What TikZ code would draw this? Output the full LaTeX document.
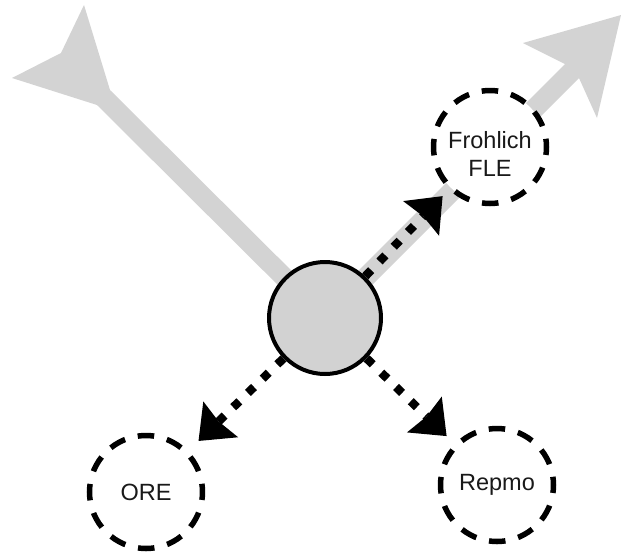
\documentclass[tikz,border=0pt]{standalone}
\usepackage{fontspec}
\setmainfont{Liberation Sans}
\usetikzlibrary{arrows.meta}
\definecolor{shaftgray}{HTML}{D3D3D3}
\definecolor{hubgray}{HTML}{D2D2D2}
\begin{document}
\begin{tikzpicture}[x=1pt,y=-1pt,
  hub/.style={circle, draw=black, line width=4pt, fill=hubgray, minimum size=112pt, inner sep=0pt},
  site/.style={circle, draw=black, fill=white, line width=5.5pt, dash pattern=on 16.5pt off 13.1pt, dash phase=8.25pt, minimum size=113pt, inner sep=0pt},
  sitetext/.style={font=\fontsize{23.5}{27.5}\selectfont, align=center, text=black!90, inner sep=0pt},
  link/.style={draw=black, line width=8.5pt, dash pattern=on 8.5pt off 12pt, -{Stealth[length=31pt,width=50pt,inset=3pt,line width=0pt]}},
  bigarrow/.style={fill=shaftgray, draw=none}]
\useasboundingbox (0,0) rectangle (621,555);
% grey flow arrows
\fill[bigarrow] (318,311) -- (565,64) -- (523,43) -- (621,15) -- (597,118) -- (579,78) -- (332,325) -- cycle;
\fill[bigarrow] (332,311) -- (110,90) -- (84,5) -- (61,53) -- (12,78) -- (97,105) -- (318,325) -- cycle;
% nodes
\node[site] (fle) at (490,147) {};
\node[sitetext] (flet) at (490,154) {Frohlich\\FLE};
\node[site, sitetext] (ore) at (146,492) {ORE};
\node[site, sitetext] (rep) at (497,485) {Repmo};
\node[hub] (c) at (325,318) {};
% dotted connectors
\draw[link, shorten >=9pt] (c) -- (fle);
\draw[link, shorten >=14pt] (c) -- (ore);
\draw[link, shorten >=11pt] (c) -- (rep);
\end{tikzpicture}
\end{document}
